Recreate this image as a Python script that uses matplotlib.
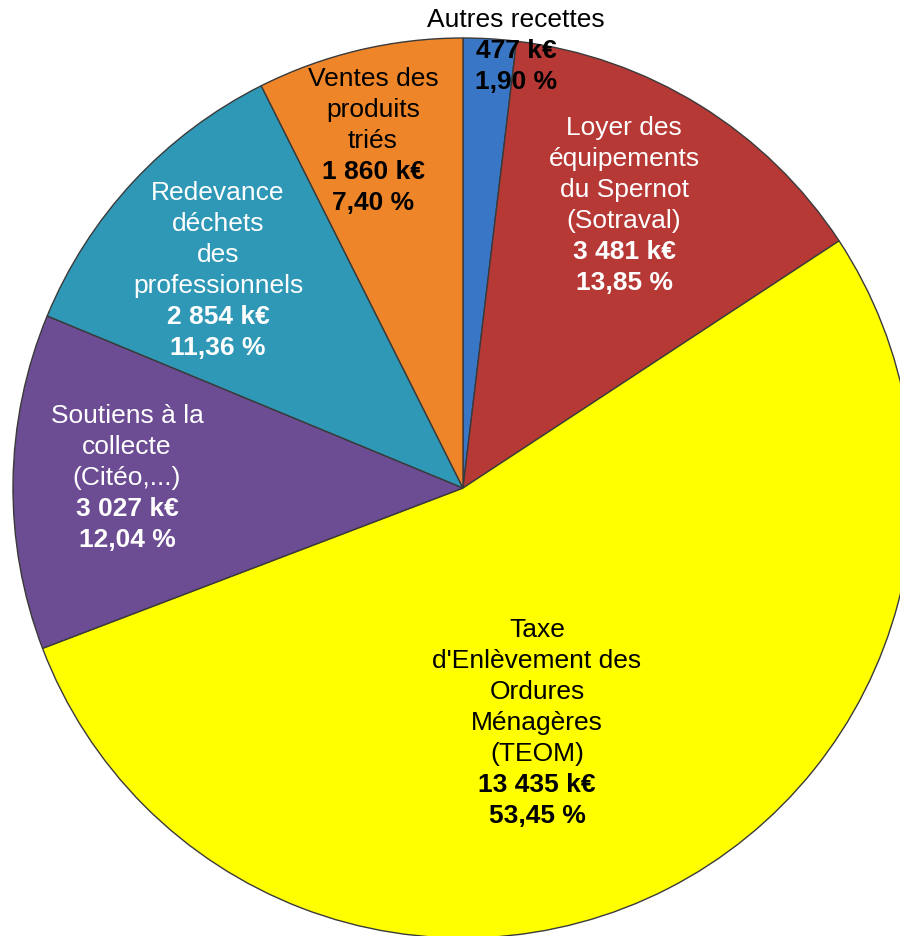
import matplotlib
matplotlib.use("Agg")
import matplotlib.pyplot as plt

plt.rcParams['font.family'] = ['Liberation Sans', 'DejaVu Sans']

# ---- data ----
categories = ["Autres recettes",
              "Loyer des\néquipements\ndu Spernot\n(Sotraval)",
              "Taxe\nd'Enlèvement des\nOrdures\nMénagères\n(TEOM)",
              "Soutiens à la\ncollecte\n(Citéo,...)",
              "Redevance\ndéchets\ndes\nprofessionnels",
              "Ventes des\nproduits\ntriés"]
values_keur = [477, 3481, 13435, 3027, 2854, 1860]
percent_labels = ["1,90 %", "13,85 %", "53,45 %", "12,04 %", "11,36 %", "7,40 %"]

# ---- style / layout ----
colors = ["#3a76c6", "#b63936", "#ffff00", "#6c4c92", "#2f98b6", "#ee8529"]
text_colors = ["black", "white", "black", "white", "white", "black"]
# label anchor (x center, y of first line) in pixels from top-left
label_pos = [(516, 20), (624, 128), (537, 630), (127, 416), (218, 193), (373, 79)]
line_h = 31

W, H = 900, 936
fig = plt.figure(figsize=(W / 100, H / 100), dpi=100)
ax = fig.add_axes([0, 0, 1, 1])

cx, cy, r = 463, 488, 450
ax.pie(values_keur, colors=colors, startangle=90, counterclock=False,
       center=(cx, H - cy), radius=r,
       wedgeprops=dict(edgecolor="#3a3a3a", linewidth=1.0))
ax.set_xlim(0, W)
ax.set_ylim(0, H)
ax.set_aspect('equal')
ax.axis('off')


def fmt_k(v):
    s = f"{v:,}".replace(",", " ")
    return f"{s} k€"


for name, v, pct, tc, (x, y0) in zip(categories, values_keur, percent_labels,
                                     text_colors, label_pos):
    lines = [(l, 'normal') for l in name.split("\n")]
    lines += [(fmt_k(v), 'bold'), (pct, 'bold')]
    for i, (txt, w) in enumerate(lines):
        ax.text(x, H - (y0 + i * line_h), txt, ha='center', va='center',
                fontsize=19, fontweight=w, color=tc)

fig.savefig("out.png", dpi=100)
